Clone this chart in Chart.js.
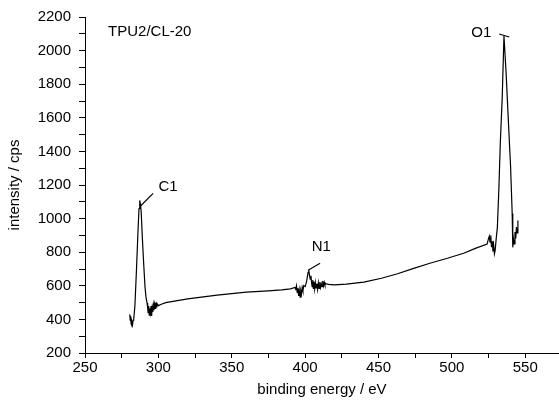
<!DOCTYPE html>
<html><head><meta charset="utf-8">
<script src="https://cdn.jsdelivr.net/npm/chart.js@4/dist/chart.umd.min.js"></script>
<style>html,body{margin:0;padding:0;background:#fff}#wrap{width:559px;height:403px;position:relative}</style>
</head><body><div id="wrap"><canvas id="c"></canvas></div>
<script>
const energy = [280.5,280.8,281.1,281.4,281.7,282,282.4,282.8,283.2,
284,285,286,286.8,287.3,287.8,288.3,289,290,290.9,291.6,292.3,
292.7,293,293.4,293.8,294.2,294.6,295,295.4,295.8,296.2,296.6,297,297.4,297.8,298.2,298.6,299,
300,302,305,320,340,360,375,384,390,393,
393.6,394.1,394.6,395.1,395.6,396,396.6,397,397.5,398,398.5,399,400,401,402,402.5,403,403.5,404,404.4,404.8,405.2,405.6,406,406.5,407,407.5,408,408.5,409,409.5,410,410.5,411,411.5,412,412.5,413,413.5,414,
416,420,428,440,452,463,474,485,497,508,516,524,
525,525.5,526,526.5,527,527.5,528,528.5,529,529.5,530.2,531,532,533,534.3,535.5,537,538.5,540,541.1,
541.5,542,542.5,543,543.5,544,544.5,545];
const intensity = [430,395,420,375,365,390,370,395,400,
480,680,900,1060,1108,1085,1040,900,730,592,530,497,
470,440,480,425,465,440,480,420,470,445,485,455,490,465,500,475,495,
482,490,500,522,545,562,570,576,582,590,
580,600,560,585,540,575,532,570,550,590,570,600,595,625,680,693,660,640,660,615,595,635,585,625,580,620,588,612,578,618,585,622,590,612,595,628,600,622,605,612,608,
606,610,622,645,672,704,734,764,794,823,848,882,
895,860,900,830,865,805,840,790,810,880,948,1170,1450,1720,2087,1860,1580,1310,1030,829,
880,850,920,880,950,915,989,960];
const xTicksMajor = [250,300,350,400,450,500,550];
const yTicksMajor = [200,400,600,800,1000,1200,1400,1600,1800,2000,2200];
const sampleLabel = {text:'TPU2/CL-20', x:265.7, y:2111};
const peakLabels = [
  {text:'C1', x:306.6, y:1191, from:[287.5,1072], to:[296.4,1150]},
  {text:'N1', x:411, y:829, from:[402,693], to:[410.2,734]},
  {text:'O1', x:520, y:2105, from:[532.3,2099], to:[539.1,2081]}
];

const FONT = {family:'"Liberation Sans", Arial, sans-serif', size:15};

const annot = {
  id:'annot',
  afterDatasetsDraw(chart){
    const {ctx, scales:{x,y}} = chart;
    ctx.save();
    ctx.fillStyle='#000'; ctx.strokeStyle='#000'; ctx.lineWidth=1.2;
    ctx.font = FONT.size+'px '+FONT.family;
    ctx.textBaseline='middle';
    ctx.textAlign='left';
    ctx.fillText(sampleLabel.text, x.getPixelForValue(sampleLabel.x), y.getPixelForValue(sampleLabel.y));
    ctx.textAlign='center';
    peakLabels.forEach(p=>{
      ctx.fillText(p.text, x.getPixelForValue(p.x), y.getPixelForValue(p.y));
      ctx.beginPath();
      ctx.moveTo(x.getPixelForValue(p.from[0]), y.getPixelForValue(p.from[1]));
      ctx.lineTo(x.getPixelForValue(p.to[0]), y.getPixelForValue(p.to[1]));
      ctx.stroke();
    });
    ctx.restore();
  }
};

new Chart(document.getElementById('c'), {
  type:'scatter',
  data:{datasets:[{
    data: energy.map((e,i)=>({x:e, y:intensity[i]})),
    showLine:true, borderColor:'#000', borderWidth:1.2, pointRadius:0, tension:0
  }]},
  options:{
    responsive:true, maintainAspectRatio:false, animation:false,
    layout:{padding:{top:16,right:0,left:0,bottom:0}},
    plugins:{legend:{display:false}, tooltip:{enabled:false}},
    scales:{
      x:{type:'linear', min:250, max:573,
        afterBuildTicks(s){ const t=[]; for(let v=250; v<=573; v+=25) t.push({value:v}); s.ticks=t; },
        ticks:{autoSkip:false, maxRotation:0, color:'#000', font:FONT, padding:1,
          callback:v=> xTicksMajor.includes(v)? String(v) : ''},
        grid:{drawOnChartArea:false, tickLength:5, color:'#000'},
        border:{color:'#000', width:1},
        title:{display:true, text:'binding energy / eV', color:'#000', font:FONT, padding:{top:0,bottom:4}},
        afterFit(s){ s.height = 50; }
      },
      y:{type:'linear', min:200, max:2200,
        afterBuildTicks(s){ const t=[]; for(let v=200; v<=2200; v+=100) t.push({value:v}); s.ticks=t; },
        ticks:{autoSkip:false, color:'#000', font:FONT, padding:8,
          callback:v=> yTicksMajor.includes(v)? String(v) : ''},
        grid:{drawOnChartArea:false, tickLength:6, color:'#000'},
        border:{color:'#000', width:1},
        title:{display:true, text:'intensity / cps', color:'#000', font:FONT, padding:{top:6,bottom:0}},
        afterFit(s){ s.width = 85; }
      }
    }
  },
  plugins:[annot]
});
</script></body></html>
